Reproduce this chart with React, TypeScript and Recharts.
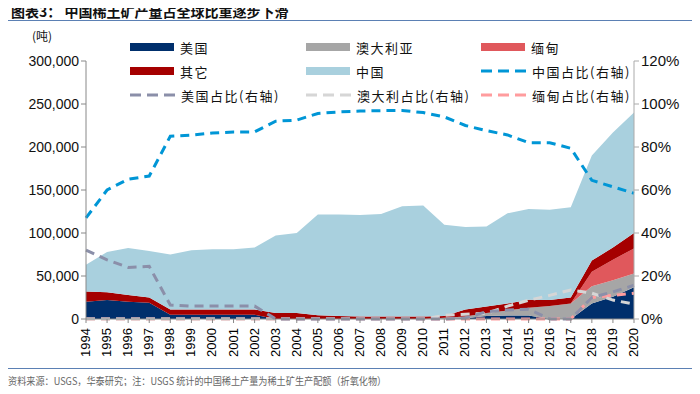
import { ComposedChart, Area, Line, XAxis, YAxis } from "recharts";

const years = [
  "1994", "1995", "1996", "1997", "1998", "1999", "2000", "2001", "2002",
  "2003", "2004", "2005", "2006", "2007", "2008", "2009", "2010", "2011",
  "2012", "2013", "2014", "2015", "2016", "2017", "2018", "2019", "2020",
];

// 产量（千吨）
const usa = [20, 22, 20, 19, 5, 5, 5, 5, 5, 0, 0, 0, 0, 0, 0, 0, 0, 0, 1, 3.5, 4, 4, 0, 0, 18, 26, 37];
const australia = [0, 0, 0, 0, 0, 0, 0, 0, 0, 0, 0, 0, 0, 0, 0, 0, 0, 1.5, 2, 3.5, 6, 9, 15, 18, 20, 19, 16];
const myanmar = [0, 0, 0, 0, 0, 0, 0, 0, 0, 0, 0, 0, 0, 0, 0, 0, 0, 0, 0, 0, 0, 0, 0, 0, 17, 24, 29];
const others = [12, 9, 8, 6, 6, 6, 6, 6, 6, 7, 7, 4.5, 3.5, 3, 3, 3, 3, 2, 8, 7.5, 8, 9.5, 7, 7, 13, 14, 18];
const china = [31, 47, 54.5, 54, 64, 69, 70, 70, 72, 90, 93, 117, 118, 118, 119, 128, 129, 106, 96, 93, 105, 105.5, 105, 105, 122, 134, 140];

// 占比（%）
const chinaShare = [47, 60, 65, 66.5, 85, 85.5, 86.5, 87, 87, 92, 92.5, 95.6, 96.3, 96.7, 96.9, 97, 96, 94, 90, 87.6, 85.6, 82, 82, 79.4, 64.5, 61.5, 58.5];
const usaShare = [32, 27.5, 24, 24.5, 6.5, 6, 6, 6, 6, 0, 0, 0, 0, 0, 0, 0, 0, 0, 0.5, 3.4, 4.2, 4.5, 0, 0, 10, 12.6, 15.7];
const australiaShare = [0, 0, 0, 0, 0, 0, 0, 0, 0, 0, 0, 0, 0, 0, 0, 0, 0, 1.7, 2.2, 2.6, 6, 8.7, 11, 13.5, 12, 8.8, 6.9];
const myanmarShare = [0, 0, 0, 0, 0, 0, 0, 0, 0, 0, 0, 0, 0, 0, 0, 0, 0, 0, 0, 0, 0, 0, 0, 0, 10, 11, 12];

const leftTicks = [0, 50000, 100000, 150000, 200000, 250000, 300000];
const rightTicks = [0, 20, 40, 60, 80, 100, 120];

const data = years.map((y, i) => ({
  year: y,
  usa: usa[i] * 1000,
  australia: australia[i] * 1000,
  myanmar: myanmar[i] * 1000,
  others: others[i] * 1000,
  china: china[i] * 1000,
  chinaShare: chinaShare[i],
  usaShare: usaShare[i],
  australiaShare: australiaShare[i],
  myanmarShare: myanmarShare[i],
}));

const C = {
  usa: "#002f6c",
  australia: "#a6a6a6",
  myanmar: "#e0585c",
  others: "#a50000",
  china: "#a9d0de",
  chinaShare: "#0096d6",
  usaShare: "#8b8fa9",
  australiaShare: "#d6d6d6",
  myanmarShare: "#ff9c9e",
};

const CJK = '"Noto Sans CJK SC", "Noto Sans", sans-serif';
const NUM = '"Liberation Sans", Arial, sans-serif';

const legendItems = [
  { label: "美国", color: C.usa, dash: false, x: 130, y: 47 },
  { label: "澳大利亚", color: C.australia, dash: false, x: 306, y: 47 },
  { label: "缅甸", color: C.myanmar, dash: false, x: 481, y: 47 },
  { label: "其它", color: C.others, dash: false, x: 130, y: 71 },
  { label: "中国", color: C.china, dash: false, x: 306, y: 71 },
  { label: "中国占比(右轴)", color: C.chinaShare, dash: true, x: 481, y: 71 },
  { label: "美国占比(右轴)", color: C.usaShare, dash: true, x: 130, y: 95 },
  { label: "澳大利占比(右轴)", color: C.australiaShare, dash: true, x: 306, y: 95 },
  { label: "缅甸占比(右轴)", color: C.myanmarShare, dash: true, x: 481, y: 95 },
];

const YearTick = (props: any) => {
  const { x, y, payload } = props;
  return (
    <text
      x={x}
      y={y}
      transform={`rotate(-90, ${x}, ${y})`}
      textAnchor="end"
      dy={4}
      dx={-3}
      fontSize={13}
      fontFamily={NUM}
      fill="#000"
    >
      {payload.value}
    </text>
  );
};

export default function App() {
  return (
    <div style={{ position: "relative", width: 700, height: 394, margin: -8, background: "#fff" }}>
      <div
        style={{
          position: "absolute",
          left: 11,
          top: 2,
          lineHeight: "18px",
          fontFamily: CJK,
          fontWeight: 700,
          fontSize: 14,
          color: "#111",
          whiteSpace: "pre",
        }}
      >
        {"图表3： 中国稀土矿产量占全球比重逐步下滑"}
      </div>
      <div style={{ position: "absolute", left: 8, right: 5, top: 20, height: 1, background: "#5b80b4" }} />
      <div style={{ position: "absolute", left: 32, top: 27, fontFamily: CJK, fontSize: 12, color: "#111" }}>(吨)</div>

      <ComposedChart
        width={700}
        height={394}
        data={data}
        margin={{ top: 61, right: 6, bottom: 35, left: 16 }}
      >
        <XAxis
          dataKey="year"
          tick={<YearTick />}
          interval={0}
          height={40}
          stroke="#888"
          tickLine={{ stroke: "#888" }}
          tickSize={4}
        />
        <YAxis
          yAxisId="left"
          domain={[0, 300000]}
          ticks={leftTicks}
          width={70}
          tickFormatter={(v: number) => v.toLocaleString("en-US")}
          tick={{ fontSize: 14, fontFamily: NUM, fill: "#111" }}
          stroke="#888"
          tickSize={5}
        />
        <YAxis
          yAxisId="right"
          orientation="right"
          domain={[0, 120]}
          ticks={rightTicks}
          width={60}
          tickFormatter={(v: number) => `${v}%`}
          tick={{ fontSize: 15, fontFamily: NUM, fill: "#111" }}
          stroke="#aaa"
          tickSize={5}
        />
        <Area yAxisId="left" type="linear" dataKey="usa" stackId="s" stroke="none" fill={C.usa} fillOpacity={1} isAnimationActive={false} />
        <Area yAxisId="left" type="linear" dataKey="australia" stackId="s" stroke="none" fill={C.australia} fillOpacity={1} isAnimationActive={false} />
        <Area yAxisId="left" type="linear" dataKey="myanmar" stackId="s" stroke="none" fill={C.myanmar} fillOpacity={1} isAnimationActive={false} />
        <Area yAxisId="left" type="linear" dataKey="others" stackId="s" stroke="none" fill={C.others} fillOpacity={1} isAnimationActive={false} />
        <Area yAxisId="left" type="linear" dataKey="china" stackId="s" stroke="none" fill={C.china} fillOpacity={1} isAnimationActive={false} />
        <Line yAxisId="right" type="linear" dataKey="myanmarShare" stroke={C.myanmarShare} strokeWidth={3} strokeDasharray="9 6" dot={false} isAnimationActive={false} />
        <Line yAxisId="right" type="linear" dataKey="australiaShare" stroke={C.australiaShare} strokeWidth={3} strokeDasharray="9 6" dot={false} isAnimationActive={false} />
        <Line yAxisId="right" type="linear" dataKey="usaShare" stroke={C.usaShare} strokeWidth={3} strokeDasharray="9 6" dot={false} isAnimationActive={false} />
        <Line yAxisId="right" type="linear" dataKey="chinaShare" stroke={C.chinaShare} strokeWidth={3} strokeDasharray="9 6" dot={false} isAnimationActive={false} />
      </ComposedChart>

      {legendItems.map((it) => (
        <div key={it.label} style={{ position: "absolute", left: it.x, top: it.y - 9, height: 18, display: "flex", alignItems: "center" }}>
          {it.dash ? (
            <svg width={45} height={8}>
              <line x1={0} y1={4} x2={45} y2={4} stroke={it.color} strokeWidth={3} strokeDasharray="11 6" />
            </svg>
          ) : (
            <div style={{ width: 44, height: 8, background: it.color }} />
          )}
          <span style={{ marginLeft: 6, fontFamily: CJK, fontSize: 13, letterSpacing: 1.5, color: "#111", whiteSpace: "nowrap" }}>
            {it.label}
          </span>
        </div>
      ))}

      <div style={{ position: "absolute", left: 8, right: 5, top: 368, height: 1, background: "#5b80b4" }} />
      <div
        style={{
          position: "absolute",
          left: 8,
          top: 374,
          lineHeight: "14px",
          fontFamily: CJK,
          fontSize: 10.5,
          color: "#666",
          whiteSpace: "pre",
          transform: "scaleX(0.87)",
          transformOrigin: "left center",
        }}
      >
        {"资料来源：USGS，华泰研究；注：USGS 统计的中国稀土产量为稀土矿生产配额（折氧化物）"}
      </div>
    </div>
  );
}
